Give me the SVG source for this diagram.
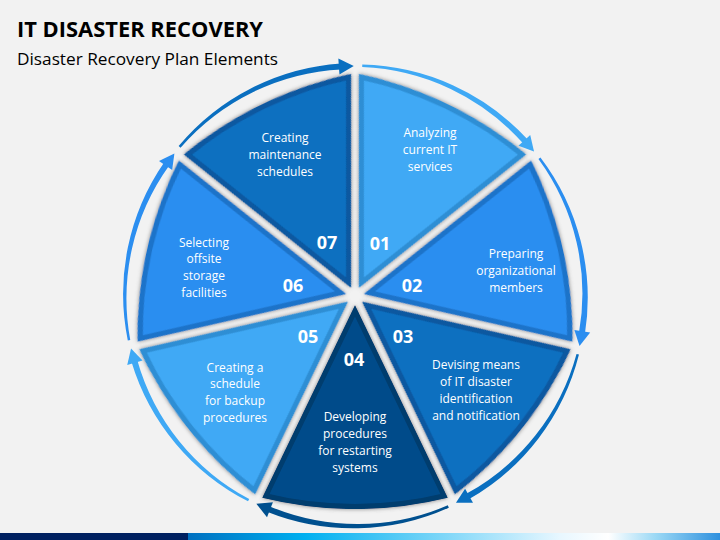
<svg xmlns="http://www.w3.org/2000/svg" xmlns:xlink="http://www.w3.org/1999/xlink" width="720" height="540" viewBox="0 0 720 540">
<style>
.lbl{font-family:"Open Sans","DejaVu Sans",sans-serif;font-size:12px;fill:#fff;text-anchor:middle}
.num{font-family:"Open Sans","DejaVu Sans",sans-serif;font-size:18px;font-weight:bold;fill:#fff;text-anchor:middle}
.c1{fill:#3FA9F5;stroke:#2F8ED4}
.c2{fill:#2B8EF0;stroke:#1F73C9}
.c3{fill:#0A6FC0;stroke:#0759A0}
.c4{fill:#004C8A;stroke:#003C6E}
.wedge{stroke-width:10}
</style>
<defs>
<path id="w" d="M0,-9.2 L-92.7,-201.7 A390,390 0 0 1 92.7,-201.7 Z"/>
<clipPath id="wc"><use href="#w"/></clipPath>
<filter id="sh" x="-20%" y="-20%" width="140%" height="140%">
<feDropShadow dx="0" dy="0" stdDeviation="2" flood-color="#555" flood-opacity="0.7"/>
</filter>
<g id="arrow">
<path d="M-93.83,-211.63 A232,232 0 0 1 88.04,-215.73 L85.77,-210.17 A228,228 0 0 0 -92.81,-209.35 Z"/>
<polygon points="98.66,-207.77 88.00,-221.13 82.08,-206.27"/>
</g>
<linearGradient id="bar" x1="188" y1="0" x2="720" y2="0" gradientUnits="userSpaceOnUse">
<stop offset="0" stop-color="#0070C0"/>
<stop offset="0.22" stop-color="#00B0F0"/>
<stop offset="0.7" stop-color="#E8F7FF"/>
<stop offset="0.79" stop-color="#FFFFFF"/>
<stop offset="0.88" stop-color="#9AD8F5"/>
<stop offset="1" stop-color="#2E90DE"/>
</linearGradient>
</defs>
<rect x="0" y="0" width="720" height="540" fill="#F2F2F2"/>
<text x="17" y="37" font-family="'Open Sans','DejaVu Sans',sans-serif" font-size="21" font-weight="bold" fill="#000" textLength="246" lengthAdjust="spacingAndGlyphs">IT DISASTER RECOVERY</text>
<text x="17" y="65" font-family="'Open Sans','DejaVu Sans',sans-serif" font-size="16" fill="#000" textLength="261" lengthAdjust="spacingAndGlyphs">Disaster Recovery Plan Elements</text>

<g id="node-01">
<g transform="translate(355,296) rotate(25.714)" filter="url(#sh)"><use href="#w" class="c1 wedge" clip-path="url(#wc)"/></g>
<text class="lbl" y="136.5"><tspan x="430">Analyzing</tspan><tspan x="430" dy="17">current IT</tspan><tspan x="430" dy="17">services</tspan></text>
<text class="num" x="380" y="249.5">01</text>
</g>
<g id="node-02">
<g transform="translate(355,296) rotate(77.143)" filter="url(#sh)"><use href="#w" class="c2 wedge" clip-path="url(#wc)"/></g>
<text class="lbl" y="257.5"><tspan x="516">Preparing</tspan><tspan x="516" dy="17">organizational</tspan><tspan x="516" dy="17">members</tspan></text>
<text class="num" x="412" y="291.5">02</text>
</g>
<g id="node-03">
<g transform="translate(355,296) rotate(128.571)" filter="url(#sh)"><use href="#w" class="c3 wedge" clip-path="url(#wc)"/></g>
<text class="lbl" y="368.5"><tspan x="476">Devising means</tspan><tspan x="476" dy="17">of IT disaster</tspan><tspan x="476" dy="17">identification</tspan><tspan x="476" dy="17.5">and notification</tspan></text>
<text class="num" x="403" y="342.5">03</text>
</g>
<g id="node-04">
<g transform="translate(355,296) rotate(180)" filter="url(#sh)"><use href="#w" class="c4 wedge" clip-path="url(#wc)"/></g>
<text class="lbl" y="420.5"><tspan x="355">Developing</tspan><tspan x="355" dy="17">procedures</tspan><tspan x="355" dy="17">for restarting</tspan><tspan x="355" dy="17">systems</tspan></text>
<text class="num" x="354" y="365.5">04</text>
</g>
<g id="node-05">
<g transform="translate(355,296) rotate(231.429)" filter="url(#sh)"><use href="#w" class="c1 wedge" clip-path="url(#wc)"/></g>
<text class="lbl" y="371.5"><tspan x="235">Creating a</tspan><tspan x="235" dy="16.5">schedule</tspan><tspan x="235" dy="17">for backup</tspan><tspan x="235" dy="17">procedures</tspan></text>
<text class="num" x="308" y="342.5">05</text>
</g>
<g id="node-06">
<g transform="translate(355,296) rotate(282.857)" filter="url(#sh)"><use href="#w" class="c2 wedge" clip-path="url(#wc)"/></g>
<text class="lbl" y="246.5"><tspan x="204">Selecting</tspan><tspan x="204" dy="16.5">offsite</tspan><tspan x="204" dy="17">storage</tspan><tspan x="204" dy="17">facilities</tspan></text>
<text class="num" x="293" y="291.5">06</text>
</g>
<g id="node-07">
<g transform="translate(355,296) rotate(334.286)" filter="url(#sh)"><use href="#w" class="c3 wedge" clip-path="url(#wc)"/></g>
<text class="lbl" y="141.5"><tspan x="285">Creating</tspan><tspan x="285" dy="17">maintenance</tspan><tspan x="285" dy="17">schedules</tspan></text>
<text class="num" x="327" y="248.5">07</text>
</g>

<g id="connectors">
<use href="#arrow" transform="translate(355,296) rotate(25.714)" fill="#3FA9F5"/>
<use href="#arrow" transform="translate(355,296) rotate(77.143)" fill="#2B8EF0"/>
<use href="#arrow" transform="translate(355,296) rotate(128.571)" fill="#0A6FC0"/>
<use href="#arrow" transform="translate(355,296) rotate(180)" fill="#00508F"/>
<use href="#arrow" transform="translate(355,296) rotate(231.429)" fill="#3FA9F5"/>
<use href="#arrow" transform="translate(355,296) rotate(282.857)" fill="#2B8EF0"/>
<use href="#arrow" transform="translate(355,296) rotate(334.286)" fill="#0A6FC0"/>
</g>

<rect x="0" y="533" width="188" height="7" fill="#002060"/>
<rect x="188" y="533" width="532" height="7" fill="url(#bar)"/>
</svg>
